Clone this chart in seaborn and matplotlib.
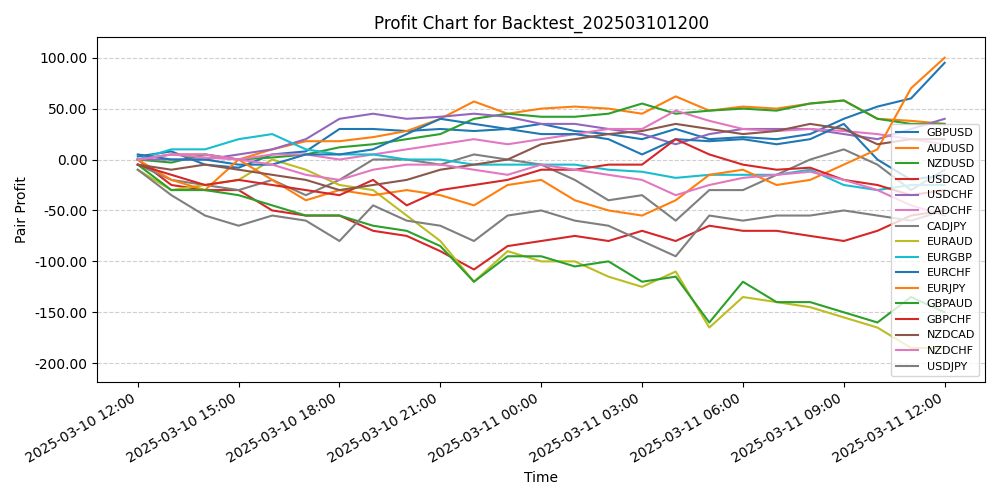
import numpy as np
import pandas as pd
import matplotlib
matplotlib.use("Agg")
import matplotlib.pyplot as plt
import matplotlib.dates as mdates
from matplotlib.ticker import FormatStrFormatter
import seaborn as sns

times = pd.date_range("2025-03-10 12:00", "2025-03-11 12:00", freq="1h")

GBPUSD = [3, 8, -5, -8, 5, 8, 30, 30, 28, 30, 28, 30, 35, 28, 25, 20, 30, 20, 22, 20, 25, 40, 52, 60, 95]
AUDUSD = [0, 5, 5, 0, 10, 18, 18, 22, 28, 40, 57, 45, 50, 52, 50, 45, 62, 48, 52, 50, 55, 58, 40, 38, 35]
NZDUSD = [0, -3, 5, 0, 2, 5, 12, 15, 20, 25, 40, 45, 42, 42, 45, 55, 45, 48, 50, 48, 55, 58, 40, 35, 35]
USDCAD = [0, -25, -30, -30, -50, -55, -55, -70, -75, -90, -108, -85, -80, -75, -80, -70, -80, -65, -70, -70, -75, -80, -70, -55, -50]
USDCHF = [0, 0, 0, 5, 10, 20, 40, 45, 40, 42, 45, 42, 35, 35, 30, 25, 15, 25, 30, 30, 30, 25, 20, 30, 40]
CADCHF = [0, 5, 5, 0, 5, 5, 0, 5, 10, 15, 20, 15, 20, 25, 30, 30, 48, 38, 30, 28, 30, 28, 25, 20, 15]
CADJPY = [-5, -20, -25, -30, -20, -35, -20, 0, 0, -5, 5, 0, -5, -20, -40, -35, -60, -30, -30, -15, 0, 10, -5, -30, -10]
EURAUD = [-10, -30, -25, -20, 0, -10, -25, -30, -55, -80, -120, -90, -100, -100, -115, -125, -110, -165, -135, -140, -145, -155, -165, -185, -185]
EURGBP = [0, 10, 10, 20, 25, 10, 5, 5, 0, 0, -5, -5, -5, -5, -10, -12, -18, -15, -15, -15, -10, -25, -30, -25, -25]
EURCHF = [5, 0, 0, -5, -5, 5, 5, 10, 25, 40, 35, 30, 25, 25, 20, 5, 20, 18, 20, 15, 20, 35, 0, -20, -15]
EURJPY = [0, -20, -30, 0, -20, -40, -30, -35, -30, -35, -45, -25, -20, -40, -50, -55, -40, -15, -10, -25, -20, -5, 10, 70, 100]
GBPAUD = [-5, -30, -30, -35, -45, -55, -55, -65, -70, -85, -120, -95, -95, -105, -100, -120, -115, -160, -120, -140, -140, -150, -160, -135, -150]
GBPCHF = [-5, -15, -25, -20, -25, -30, -35, -20, -45, -30, -25, -20, -10, -10, -5, -5, 20, 5, -5, -10, -8, -20, -25, -35, -30]
NZDCAD = [-5, -10, -5, -10, -15, -20, -30, -25, -20, -10, -5, 0, 15, 20, 25, 28, 35, 30, 25, 28, 35, 30, 15, 20, 20]
NZDCHF = [0, 5, 2, 0, -5, -15, -20, -10, -5, -5, -10, -15, -5, -10, -15, -20, -35, -25, -18, -15, -12, -20, -30, -45, -55]
USDJPY = [-10, -35, -55, -65, -55, -60, -80, -45, -60, -65, -80, -55, -50, -60, -65, -80, -95, -55, -60, -55, -55, -50, -55, -60, -50]

series = {
    "GBPUSD": (GBPUSD, "#1f77b4"), "AUDUSD": (AUDUSD, "#ff7f0e"),
    "NZDUSD": (NZDUSD, "#2ca02c"), "USDCAD": (USDCAD, "#d62728"),
    "USDCHF": (USDCHF, "#9467bd"), "CADCHF": (CADCHF, "#e377c2"),
    "CADJPY": (CADJPY, "#7f7f7f"), "EURAUD": (EURAUD, "#bcbd22"),
    "EURGBP": (EURGBP, "#17becf"), "EURCHF": (EURCHF, "#1f77b4"),
    "EURJPY": (EURJPY, "#ff7f0e"), "GBPAUD": (GBPAUD, "#2ca02c"),
    "GBPCHF": (GBPCHF, "#d62728"), "NZDCAD": (NZDCAD, "#8c564b"),
    "NZDCHF": (NZDCHF, "#e377c2"), "USDJPY": (USDJPY, "#7f7f7f"),
}

fig, ax = plt.subplots(figsize=(10, 5), dpi=100)
for name, (vals, color) in series.items():
    sns.lineplot(x=times, y=vals, ax=ax, label=name, color=color, linewidth=1.5)

ax.set_title("Profit Chart for Backtest_202503101200")
ax.set_xlabel("Time")
ax.set_ylabel("Pair Profit")
ax.yaxis.set_major_formatter(FormatStrFormatter("%.2f"))
ax.set_ylim(-218, 120)
ax.xaxis.set_major_locator(mdates.HourLocator(byhour=[0, 3, 6, 9, 12, 15, 18, 21]))
ax.xaxis.set_major_formatter(mdates.DateFormatter("%Y-%m-%d %H:%M"))
ax.grid(axis="y", linestyle="--", alpha=0.6)
ax.legend(loc="lower right", fontsize=8)
fig.autofmt_xdate()
fig.tight_layout()
fig.savefig("out.png")
